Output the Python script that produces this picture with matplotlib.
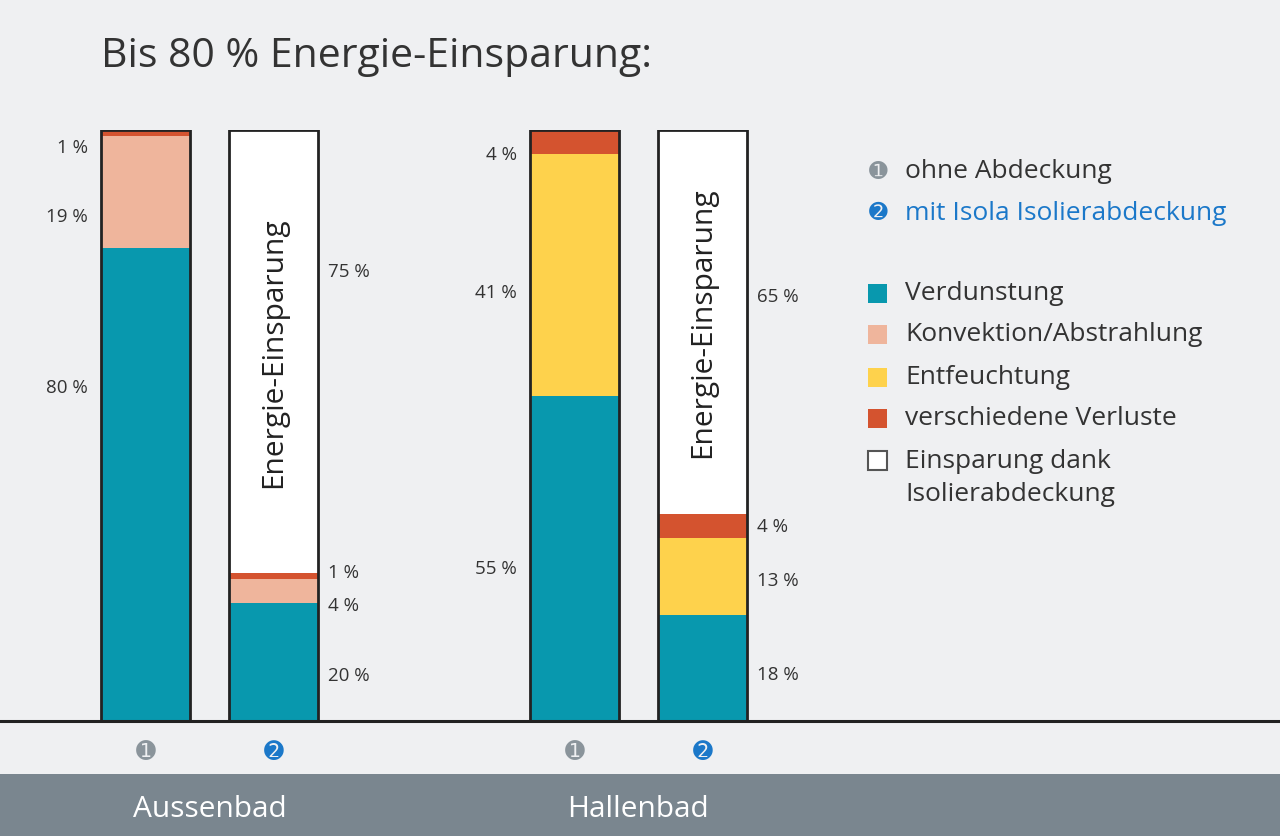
import matplotlib
matplotlib.use("Agg")
import matplotlib.pyplot as plt
from matplotlib.patches import Rectangle

# --- data -------------------------------------------------------------
bar_names = ["Aussenbad ohne", "Aussenbad mit", "Hallenbad ohne", "Hallenbad mit"]
bar_marks = ["\u278A", "\u278B", "\u278A", "\u278B"]
groups = ["Aussenbad", "Hallenbad"]

verdunstung = [80, 20, 55, 18]
konvektion = [19, 4, 0, 0]
entfeuchtung = [0, 0, 41, 13]
verluste = [1, 1, 4, 4]
einsparung = [0, 75, 0, 65]

series_names = ["Verdunstung", "Konvektion/Abstrahlung", "Entfeuchtung",
                "verschiedene Verluste", "Einsparung dank\nIsolierabdeckung"]
series_values = [verdunstung, konvektion, entfeuchtung, verluste, einsparung]
series_colors = ["#0898ae", "#efb59c", "#fed24c", "#d4532f", "#ffffff"]

# label placement (series index, y in axis units) per bar
label_pos = [
    [(3, 97.1), (1, 85.4), (0, 56.5)],
    [(4, 76.1), (3, 25.2), (1, 19.6), (0, 7.8)],
    [(3, 95.9), (2, 72.6), (0, 25.9)],
    [(4, 71.9), (3, 33.0), (2, 23.9), (0, 8.0)],
]

# --- layout -----------------------------------------------------------
W, H = 1280, 837
bg = "#eff0f2"
font = "Open Sans"
x_pos = [145.5, 273.5, 574.5, 702.5]
bar_w = 89
base_px, top_px = 722, 131

fig = plt.figure(figsize=(W / 100, H / 100), dpi=100, facecolor=bg)
ax = fig.add_axes([0, (H - base_px) / H, 1, (base_px - top_px) / H])
ax.set_facecolor(bg)
ax.set_xlim(0, W)
ax.set_ylim(0, 100)
ax.axis("off")

bottoms = [0, 0, 0, 0]
for vals, col in zip(series_values, series_colors):
    ax.bar(x_pos, vals, bottom=bottoms, width=bar_w, color=col, linewidth=0)
    bottoms = [b + v for b, v in zip(bottoms, vals)]
ax.bar(x_pos, bottoms, width=bar_w, fill=False, edgecolor="#222222", linewidth=2)

ax.axhline(0, color="#222222", linewidth=2.2, clip_on=False)

for i, labels in enumerate(label_pos):
    right_side = i % 2 == 1
    for s, y in labels:
        txt = f"{series_values[s][i]} %"
        if right_side:
            ax.text(x_pos[i] + bar_w / 2 + 10, y, txt, ha="left", va="center",
                    fontsize=13.5, color="#333333", family=font)
        else:
            ax.text(x_pos[i] - bar_w / 2 - 13, y, txt, ha="right", va="center",
                    fontsize=13.5, color="#333333", family=font)
    if einsparung[i] > 0:
        y_mid = 100 - einsparung[i] / 2
        ax.text(x_pos[i], y_mid, "Energie-Einsparung", rotation=90, ha="center",
                va="center", fontsize=21.5, color="#222222", family=font)

# circled numbers under the bars
mark_colors = ["#8a949b", "#1b78c9", "#8a949b", "#1b78c9"]
for x, m, c in zip(x_pos, bar_marks, mark_colors):
    fig.text(x / W, 1 - 752 / H, m, ha="center", va="center", fontsize=17,
             color=c, family="DejaVu Sans")

# grey footer band
fig.patches.append(Rectangle((0, 0), 1, (H - 775) / H, transform=fig.transFigure,
                             facecolor="#7a868f", edgecolor="none", zorder=0))
group_x = [(x_pos[0] + x_pos[1]) / 2, (x_pos[2] + x_pos[3]) / 2]
for gx, g in zip(group_x, groups):
    fig.text(gx / W, 1 - 810 / H, g, ha="center", va="center", fontsize=21.5,
             color="white", family=font)

# title
fig.text(101 / W, 1 - 57 / H, "Bis 80 % Energie-Einsparung:", ha="left", va="center",
         fontsize=29.5, color="#333333", family=font)

# legend
lx, tx = 868, 905
fig.text((lx + 10) / W, 1 - 172 / H, "\u278A", ha="center", va="center", fontsize=16,
         color=mark_colors[0], family="DejaVu Sans")
fig.text(tx / W, 1 - 172 / H, "ohne Abdeckung", ha="left", va="center",
         fontsize=19, color="#333333", family=font)
fig.text((lx + 10) / W, 1 - 213 / H, "\u278B", ha="center", va="center", fontsize=16,
         color=mark_colors[1], family="DejaVu Sans")
fig.text(tx / W, 1 - 213 / H, "mit Isola Isolierabdeckung", ha="left", va="center",
         fontsize=19, color="#1b78c9", family=font)

legend_y = [294, 335, 378, 419, 461]
for name, col, y in zip(series_names, series_colors, legend_y):
    fig.patches.append(Rectangle((lx / W, 1 - (y + 10) / H), 19 / W, 19 / H,
                                 transform=fig.transFigure, facecolor=col,
                                 edgecolor="#555555" if col == "#ffffff" else "none",
                                 linewidth=1.5))
    for k, line in enumerate(name.split("\n")):
        fig.text(tx / W, 1 - (y + 34 * k) / H, line, ha="left", va="center",
                 fontsize=19, color="#333333", family=font)

fig.savefig("out.png", dpi=100, facecolor=bg)
